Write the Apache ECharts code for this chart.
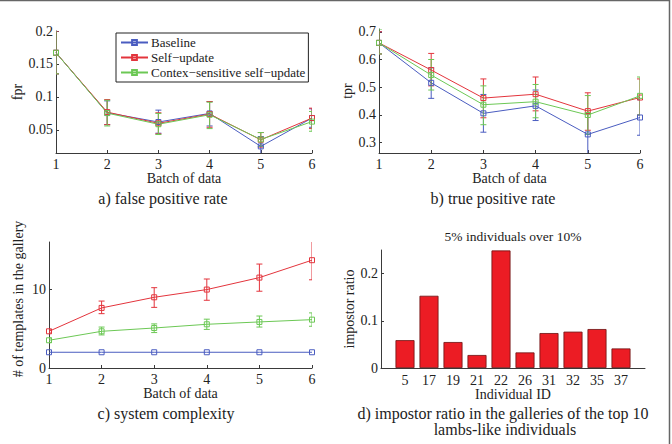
<!DOCTYPE html>
<html><head><meta charset="utf-8">
<script src="https://cdn.jsdelivr.net/npm/echarts@6/dist/echarts.min.js"></script>
<style>html,body{margin:0;padding:0;background:#fff}#c{width:672px;height:444px}</style>
</head><body><div id="c"></div>
<script>
// ---- data ----
const batches = [1, 2, 3, 4, 5, 6];
const seriesNames = ['Baseline', 'Self\u2212update', 'Contex\u2212sensitive self\u2212update'];

const fprBase = [0.167, 0.076, 0.062, 0.075, 0.025, 0.068];
const fprBaseLo = [0.135, 0.058, 0.045, 0.056, 0.010, 0.054];
const fprBaseHi = [0.200, 0.094, 0.080, 0.093, 0.040, 0.082];
const fprSelf = [0.167, 0.077, 0.060, 0.074, 0.035, 0.068];
const fprSelfLo = [0.135, 0.058, 0.044, 0.054, 0.024, 0.052];
const fprSelfHi = [0.200, 0.096, 0.076, 0.093, 0.046, 0.083];
const fprCs = [0.167, 0.0755, 0.0586, 0.073, 0.0355, 0.0626];
const fprCsLo = [0.135, 0.056, 0.043, 0.052, 0.025, 0.048];
const fprCsHi = [0.205, 0.095, 0.075, 0.092, 0.046, 0.078];

const tprBase = [0.660, 0.516, 0.406, 0.433, 0.330, 0.391];
const tprBaseLo = [0.620, 0.460, 0.338, 0.380, 0.255, 0.327];
const tprBaseHi = [0.700, 0.570, 0.474, 0.490, 0.405, 0.455];
const tprSelf = [0.660, 0.562, 0.461, 0.475, 0.414, 0.463];
const tprSelfLo = [0.620, 0.505, 0.390, 0.415, 0.345, 0.400];
const tprSelfHi = [0.700, 0.622, 0.530, 0.537, 0.480, 0.530];
const tprCs = [0.660, 0.544, 0.437, 0.448, 0.400, 0.469];
const tprCsLo = [0.620, 0.490, 0.365, 0.390, 0.330, 0.400];
const tprCsHi = [0.710, 0.600, 0.505, 0.510, 0.470, 0.537];

const galBase = [2, 2, 2, 2, 2, 2];
const galSelf = [4.66, 7.63, 8.98, 9.96, 11.48, 13.69];
const galSelfLo = [4.45, 6.9, 7.7, 8.6, 9.75, 11.2];
const galSelfHi = [4.85, 8.5, 10.2, 11.3, 13.2, 16.2];
const galCs = [3.52, 4.66, 5.08, 5.55, 5.85, 6.14];
const galCsLo = [3.25, 4.2, 4.5, 4.9, 5.2, 5.3];
const galCsHi = [3.8, 5.2, 5.6, 6.2, 6.6, 7.0];

const individualIds = ['5', '17', '19', '21', '22', '26', '31', '32', '35', '37'];
const impostorRatio = [0.059, 0.153, 0.055, 0.0275, 0.249, 0.033, 0.074, 0.077, 0.0825, 0.0414];

const fprTicks = [0.05, 0.1, 0.15, 0.2];
const tprTicks = [0.3, 0.4, 0.5, 0.6, 0.7];
const galTicks = [0, 10];
const ratioTicks = [0, 0.1, 0.2];

// ---- styles ----
const colors = ['#4a5cc0', '#e3343c', '#6cc855'];
const FONT = "'Times New Roman', 'Liberation Serif', 'DejaVu Serif', serif";
const AX = '#3a3a3a';
const TICK_FS = 14, NAME_FS = 14;

const chart = echarts.init(document.getElementById('c'), null, {renderer: 'svg'});

function xAxisBatch(gi, name) {
  return {
    type: 'value', gridIndex: gi, min: 1, max: 6, interval: 1,
    name: name, nameLocation: 'middle', nameGap: 16,
    nameTextStyle: {fontFamily: FONT, fontSize: NAME_FS, color: '#222'},
    axisLine: {show: true, lineStyle: {color: AX, width: 1}},
    axisTick: {show: true, inside: true, length: 3, lineStyle: {color: AX}},
    axisLabel: {fontFamily: FONT, fontSize: TICK_FS, color: '#222', margin: 4},
    splitLine: {show: false}
  };
}
function yAxisVal(gi, min, max, ticks, name, gap) {
  return {
    type: 'value', gridIndex: gi, min: min, max: max,
    name: name, nameLocation: 'middle', nameGap: gap, nameRotate: 90,
    nameTextStyle: {fontFamily: FONT, fontSize: NAME_FS, color: '#222'},
    axisLine: {show: true, onZero: false, lineStyle: {color: AX, width: 1}},
    axisTick: {show: true, inside: true, length: 3, lineStyle: {color: AX}, customValues: ticks},
    axisLabel: {fontFamily: FONT, fontSize: TICK_FS, color: '#222', margin: 3, customValues: ticks, formatter: v => String(v)},
    splitLine: {show: false}
  };
}

function lineSeries(gi, name, ys, color) {
  return {
    type: 'line', name: name, xAxisIndex: gi, yAxisIndex: gi,
    data: batches.map((b, i) => [b, ys[i]]),
    symbol: 'rect', symbolSize: 5, showSymbol: true,
    itemStyle: {color: 'rgba(255,255,255,0)', borderColor: color, borderWidth: 1},
    lineStyle: {color: color, width: 1},
    color: color, z: 3, animation: false
  };
}
function errSeries(gi, lo, hi, color) {
  return {
    type: 'custom', xAxisIndex: gi, yAxisIndex: gi, clip: true, z: 2, animation: false,
    silent: true,
    data: batches.map((b, i) => [b, lo[i], hi[i]]),
    renderItem: function (params, api) {
      const p1 = api.coord([api.value(0), api.value(1)]);
      const p2 = api.coord([api.value(0), api.value(2)]);
      const w = 3;
      const st = {stroke: color, lineWidth: 1, fill: null};
      return {type: 'group', children: [
        {type: 'line', shape: {x1: p1[0], y1: p1[1], x2: p2[0], y2: p2[1]}, style: st},
        {type: 'line', shape: {x1: p1[0] - w, y1: p1[1], x2: p1[0] + w, y2: p1[1]}, style: st},
        {type: 'line', shape: {x1: p2[0] - w, y1: p2[1], x2: p2[0] + w, y2: p2[1]}, style: st}
      ]};
    }
  };
}

const series = [];
series.push(errSeries(0, fprBaseLo, fprBaseHi, colors[0]));
series.push(errSeries(0, fprSelfLo, fprSelfHi, colors[1]));
series.push(errSeries(0, fprCsLo, fprCsHi, colors[2]));
series.push(lineSeries(0, seriesNames[0], fprBase, colors[0]));
series.push(lineSeries(0, seriesNames[1], fprSelf, colors[1]));
series.push(lineSeries(0, seriesNames[2], fprCs, colors[2]));
series.push(errSeries(1, tprBaseLo, tprBaseHi, colors[0]));
series.push(errSeries(1, tprSelfLo, tprSelfHi, colors[1]));
series.push(errSeries(1, tprCsLo, tprCsHi, colors[2]));
series.push(lineSeries(1, seriesNames[0], tprBase, colors[0]));
series.push(lineSeries(1, seriesNames[1], tprSelf, colors[1]));
series.push(lineSeries(1, seriesNames[2], tprCs, colors[2]));
series.push(errSeries(2, galSelfLo, galSelfHi, colors[1]));
series.push(errSeries(2, galCsLo, galCsHi, colors[2]));
series.push(lineSeries(2, seriesNames[0], galBase, colors[0]));
series.push(lineSeries(2, seriesNames[1], galSelf, colors[1]));
series.push(lineSeries(2, seriesNames[2], galCs, colors[2]));
series.push({
  type: 'bar', xAxisIndex: 3, yAxisIndex: 3, name: 'impostor',
  data: impostorRatio.map((v, i) => [i + 1, v]),
  barWidth: 19, animation: false,
  itemStyle: {color: '#ec1c24', borderColor: '#6b1010', borderWidth: 0.8}
});

const capStyle = {fontFamily: FONT, fontSize: 16, fill: '#222', textAlign: 'center', textVerticalAlign: 'middle'};
function cap(x, y, t) { return {type: 'text', x: x, y: y, style: Object.assign({text: t}, capStyle)}; }

const option = {
  backgroundColor: '#fff',
  animation: false,
  textStyle: {fontFamily: FONT},
  grid: [
    {left: 56, top: 31, width: 256, height: 122},
    {left: 379, top: 29, width: 261, height: 124},
    {left: 49, top: 242, width: 263, height: 126},
    {left: 381, top: 250, width: 264, height: 118}
  ],
  xAxis: [
    xAxisBatch(0, 'Batch of data'),
    xAxisBatch(1, 'Batch of data'),
    xAxisBatch(2, 'Batch of data'),
    {
      type: 'value', gridIndex: 3, min: 0, max: 11,
      name: 'Individual ID', nameLocation: 'middle', nameGap: 16,
      nameTextStyle: {fontFamily: FONT, fontSize: NAME_FS, color: '#222'},
      axisLine: {show: true, onZero: false, lineStyle: {color: AX, width: 1}},
      axisTick: {show: false},
      axisLabel: {fontFamily: FONT, fontSize: TICK_FS, color: '#222', margin: 5,
        customValues: individualIds.map((_, i) => i + 1),
        formatter: v => individualIds[Math.round(v) - 1] || ''},
      splitLine: {show: false}
    }
  ],
  yAxis: [
    yAxisVal(0, 0.015, 0.2, fprTicks, 'fpr', 27),
    yAxisVal(1, 0.263, 0.71, tprTicks, 'tpr', 20),
    yAxisVal(2, 0, 16, galTicks, '', 20),
    yAxisVal(3, 0, 0.25, ratioTicks, 'impostor ratio', 22)
  ],
  legend: {
    show: true, orient: 'vertical', left: 116, top: 33,
    data: seriesNames,
    backgroundColor: '#fff', borderColor: '#222', borderWidth: 1,
    padding: [3, 3, 3, 4], itemGap: 2, itemWidth: 27, itemHeight: 6,
    textStyle: {fontFamily: FONT, fontSize: 13, color: '#222', padding: [0, 0, 0, -2]},
    selectedMode: false
  },
  series: series,
  graphic: [
    {type: 'line', shape: {x1: 0, y1: 0.5, x2: 670, y2: 0.5}, style: {stroke: '#666', lineWidth: 1.5}},
    {type: 'line', shape: {x1: 669.5, y1: 0, x2: 669.5, y2: 444}, style: {stroke: '#666', lineWidth: 1.5}},
    cap(163, 198, 'a) false positive rate'),
    cap(493, 198, 'b) true positive rate'),
    cap(166, 413, 'c) system complexity'),
    cap(503, 413, 'd) impostor ratio in the galleries of the top 10'),
    cap(505, 429, 'lambs-like individuals'),
    {type: 'text', x: 18, y: 299, rotation: Math.PI / 2,
      style: {text: '# of templates in the gallery', fontFamily: FONT, fontSize: NAME_FS, fill: '#222', textAlign: 'center', textVerticalAlign: 'middle'}},
    {type: 'text', x: 513, y: 236, style: {text: '5% individuals over 10%', fontFamily: FONT, fontSize: 13.5, fill: '#222', textAlign: 'center', textVerticalAlign: 'middle'}}
  ]
};
chart.setOption(option);
</script>
</body></html>
